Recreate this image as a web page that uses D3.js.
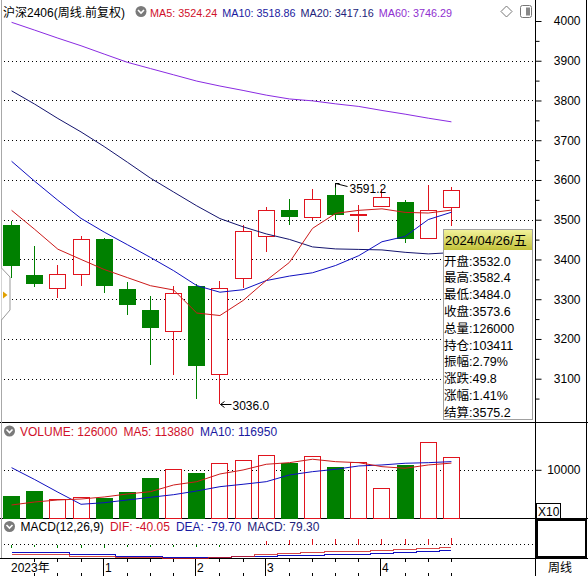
<!DOCTYPE html>
<head>
  <meta charset="utf-8">
  <style>
    body { margin: 0; background: #fff; }
    svg text {
      font-family: "Liberation Sans", Arial, "Noto Sans CJK SC", sans-serif;
      font-size: 12px;
    }
  </style>
</head>
<body>
  <svg width=588 height=576 id="chart"></svg>
  <script src="https://d3js.org/d3.v7.min.js"></script>
  <script>
    // IF2406 weekly bars
    let weeks = ["2023/12/08","2023/12/15","2023/12/22","2023/12/29","2024/01/05","2024/01/12","2024/01/19","2024/01/26",
                 "2024/02/02","2024/02/08","2024/02/23","2024/03/01","2024/03/08","2024/03/15","2024/03/22","2024/03/29",
                 "2024/04/03","2024/04/12","2024/04/19","2024/04/26"];
    let opens  = [3485.8,3362,3329,3364,3452,3326,3274,3220,3332,3112,3354,3458,3525,3507,3561,3512.5,3535,3544,3454,3532.0];
    let highs  = [3496.6,3433,3387,3459,3455,3343,3309,3332,3339,3345,3486,3532,3553,3576.5,3591.2,3536,3576.5,3549,3586.6,3582.4];
    let lows   = [3353.9,3330,3302,3333,3315,3261,3135,3109,3049,3036.0,3329,3418.5,3486,3500,3500,3469,3533,3441,3452,3484.0];
    let closes = [3386.7,3340,3364,3452,3336,3287,3229,3316,3135,3329,3471,3524,3509,3553,3514,3514,3556,3454,3524,3573.6];

    let ma5  = [3523.6,3475.7,3425.8,3400.1,3374.8,3354.4,3334,3323.2,3265.2,3258.9,3296.7,3347.1,3392.5,3478.2,3516,3523.6,3527.4,3518.5,3516.8,3524.24];
    let ma10 = [3647.1,3596.7,3548.8,3503.4,3468.9,3437.3,3405.1,3371.8,3334.3,3317.6,3323.9,3346.9,3358.2,3366.5,3384.9,3409.6,3444.6,3458,3500.4,3518.86];
    let ma20 = [3824.3,3790.8,3754.7,3720.9,3684.1,3644.8,3604.7,3569.7,3534.9,3502.9,3482.2,3464.3,3450.5,3431.6,3426.5,3425.3,3424,3418,3414,3417.16];
    let ma60 = [3996.7,3977,3956.9,3937.7,3916.8,3896.1,3880.3,3864.6,3848.8,3836.4,3825.3,3813.5,3803.9,3799.1,3791.5,3785,3774.9,3765.6,3755.5,3746.29];

    let volumes = [45700,56100,38800,43000,41500,54000,83000,101100,94000,114200,120400,130800,113600,128700,105300,115600,61700,110000,157800,126000];
    let volMa5  = [26990,33220,37370,39440,43600,49820,54600,68510,75360,91340,99650,111480,114800,121860,116880,114800,106500,103180,110030,113880];
    let volMa10 = [104420,79720,53560,28440,31760,37370,42970,48370,56050,64980,69960,75360,89270,96120,101100,107950,110030,113560,114800,116950];

    let dif  = [-128,-128,-128,-155,-155,-172,-172,-177,-177,-168,-155,-132,-119,-102,-89,-89,-71,-58,-50,-40.05];
    let dea  = [-106,-106,-106,-132,-132,-151,-151,-164,-164,-168,-159,-155,-146,-142,-132,-132,-119,-106,-89,-79.70];
    let macd = [-44,-42,-44,-46,-44,-42,-40,-40,-38,-34,0,46,54,66,70,70,72,72,74,79.30];

    let priceTicks = [3100,3200,3300,3400,3500,3600,3700,3800,3900,4000];
    let priceMinor = [3050,3150,3250,3350,3450,3550,3650,3750,3850,3950];
    let volTicks = [100000];
    let monthStarts = ["2023/12/08","2024/01/05","2024/02/02","2024/03/01","2024/04/03"];
    let monthNames  = ["2023年","1","2","3","4"];

    let infoLabels = ["开盘","最高","最低","收盘","总量","持仓","振幅","涨跌","涨幅","结算"];
    let infoValues = ["3532.0","3582.4","3484.0","3573.6","126000","103411","2.79%","49.8","1.41%","3575.2"];

    const RED = "#e0141e", GREEN = "#008000";
    const svg = d3.select("#chart");

    let x = d3.scaleBand().domain(weeks).range([0, 463]).paddingInner(0.27).paddingOuter(0.135),
        y = d3.scaleLinear().domain([3100, 4000]).range([378.7, 21]),
        yVol = d3.scaleLinear().domain([0, 100000]).range([518, 469.8]),
        yMacd = d3.scaleLinear().domain([0, -100]).range([544.3, 551.85]);

    let mid = d => x(d) + x.bandwidth() / 2;
    let cx = d => Math.floor(mid(d)) + 0.5;
    let px = v => Math.round(v) + 0.5;

    // frame
    let frame = svg.append("g").attr("stroke", "#000").attr("shape-rendering", "crispEdges");
    [422.5, 518.5, 558.5].forEach(v => frame.append("line").attr("x1", 0).attr("x2", 588).attr("y1", v).attr("y2", v));
    frame.append("line").attr("x1", 535.5).attr("x2", 535.5).attr("y1", 0).attr("y2", 576);
    frame.append("line").attr("x1", 586.5).attr("x2", 586.5).attr("y1", 0).attr("y2", 558);
    frame.append("line").attr("x1", 1.5).attr("x2", 1.5).attr("y1", 0).attr("y2", 558).attr("stroke", "#a8a8a8");

    // grid lines
    let grid = svg.append("g").attr("stroke", "#000").attr("stroke-dasharray", "1,3").attr("shape-rendering", "crispEdges");
    priceTicks.filter(t => t < 4000).forEach(t =>
      grid.append("line").attr("x1", 4).attr("x2", 535).attr("y1", px(y(t))).attr("y2", px(y(t))));
    grid.append("line").attr("x1", 4).attr("x2", 535).attr("y1", px(yVol(100000))).attr("y2", px(yVol(100000)));
    grid.append("line").attr("x1", 4).attr("x2", 535).attr("y1", px(yMacd(0))).attr("y2", px(yMacd(0)));

    // price axis
    let axisMain = svg.append("g").attr("transform", "translate(535.5,0)")
      .call(d3.axisRight(y).tickValues(priceTicks).tickSize(6).tickFormat(d3.format("d")));
    axisMain.select(".domain").remove();
    axisMain.selectAll("text").attr("x", 45).attr("text-anchor", "end").attr("fill", "#000")
      .style("font-size", "12px").style("font-family", "'Liberation Sans', Arial, sans-serif");
    axisMain.selectAll("line").attr("stroke", "#000");
    let axisMinor = svg.append("g").attr("transform", "translate(535.5,0)")
      .call(d3.axisRight(y).tickValues(priceMinor).tickSize(4).tickFormat(""));
    axisMinor.select(".domain").remove();
    axisMinor.selectAll("line").attr("stroke", "#000");

    let axisVol = svg.append("g").attr("transform", "translate(535.5,0)")
      .call(d3.axisRight(yVol).tickValues(volTicks).tickSize(6).tickFormat(d => d / 10));
    axisVol.select(".domain").remove();
    axisVol.selectAll("text").attr("x", 45).attr("text-anchor", "end").attr("fill", "#000")
      .style("font-size", "12px").style("font-family", "'Liberation Sans', Arial, sans-serif");
    axisVol.selectAll("line").attr("stroke", "#000");

    // candles
    let candles = svg.append("g").attr("shape-rendering", "crispEdges");
    weeks.forEach((w, i) => {
      let up = closes[i] >= opens[i], c = cx(w), col = up ? RED : GREEN;
      let top = px(y(Math.max(opens[i], closes[i]))), bot = px(y(Math.min(opens[i], closes[i])));
      if (bot - top < 1) bot = top + 1;
      if (up) {
        candles.append("line").attr("x1", c).attr("x2", c).attr("y1", y(highs[i])).attr("y2", top).attr("stroke", col);
        candles.append("line").attr("x1", c).attr("x2", c).attr("y1", bot).attr("y2", y(lows[i])).attr("stroke", col);
        candles.append("rect").attr("x", c - 8).attr("y", top).attr("width", 16).attr("height", bot - top)
          .attr("fill", "#fff").attr("stroke", col);
      } else {
        candles.append("line").attr("x1", c).attr("x2", c).attr("y1", y(highs[i])).attr("y2", y(lows[i])).attr("stroke", col);
        candles.append("rect").attr("x", c - 8).attr("y", top).attr("width", 16).attr("height", bot - top)
          .attr("fill", col).attr("stroke", col);
      }
    });

    // moving averages
    let maLine = arr => d3.line().x((d, i) => mid(weeks[i])).y(d => y(d))(arr);
    [[ma60, "#8a2be2"], [ma20, "#14146e"], [ma10, "#1010c0"], [ma5, "#cc1a1a"]].forEach(([arr, col]) =>
      svg.append("path").attr("d", maLine(arr)).attr("fill", "none").attr("stroke", col).attr("stroke-width", 1));

    // high / low marks
    let hi = d3.maxIndex(highs), lo = d3.minIndex(lows);
    let hx = cx(weeks[hi]), hy = px(y(highs[hi]));
    svg.append("path").attr("d", `M${hx},${hy + 4}V${hy}H${hx + 4}M${hx},${hy}L${hx + 12},${hy + 3}`)
      .attr("fill", "none").attr("stroke", "#000");
    svg.append("text").attr("x", hx + 14).attr("y", hy + 9).text(d3.format(".1f")(highs[hi]));
    let lx = cx(weeks[lo]), ly = px(y(lows[lo]));
    svg.append("path").attr("d", `M${lx + 1},${ly}H${lx + 12}M${lx + 1},${ly}l4,-3M${lx + 1},${ly}l4,3`)
      .attr("fill", "none").attr("stroke", "#000");
    svg.append("text").attr("x", lx + 13).attr("y", ly + 5).text(d3.format(".1f")(lows[lo]));

    // volume
    let vol = svg.append("g").attr("shape-rendering", "crispEdges");
    weeks.forEach((w, i) => {
      let up = closes[i] >= opens[i], c = cx(w), top = px(yVol(volumes[i]));
      vol.append("rect").attr("x", c - 8).attr("y", top).attr("width", 16).attr("height", 518 - top)
        .attr("fill", up ? "#fff" : GREEN).attr("stroke", up ? RED : GREEN);
    });
    let volLine = arr => d3.line().x((d, i) => mid(weeks[i])).y(d => yVol(d))(arr);
    svg.append("path").attr("d", volLine(volMa10)).attr("fill", "none").attr("stroke", "#1010c0");
    svg.append("path").attr("d", volLine(volMa5)).attr("fill", "none").attr("stroke", "#cc1a1a");

    // macd
    let mg = svg.append("g").attr("shape-rendering", "crispEdges");
    weeks.forEach((w, i) => {
      if (macd[i] === 0) return;
      mg.append("line").attr("x1", cx(w)).attr("x2", cx(w)).attr("y1", px(yMacd(0))).attr("y2", yMacd(macd[i]))
        .attr("stroke", macd[i] > 0 ? RED : GREEN);
    });
    let stepLine = arr => d3.line().curve(d3.curveStep).x((d, i) => mid(weeks[i])).y(d => px(yMacd(d)))(arr);
    svg.append("path").attr("d", stepLine(dea)).attr("fill", "none").attr("stroke", "#1010c0").attr("shape-rendering", "crispEdges");
    svg.append("path").attr("d", stepLine(dif)).attr("fill", "none").attr("stroke", "#cc1a1a").attr("shape-rendering", "crispEdges").attr("stroke-opacity", 0.8);

    // date strip
    let strip = svg.append("g").attr("stroke", "#000").attr("shape-rendering", "crispEdges");
    weeks.forEach(w => {
      if (monthStarts.includes(w)) return;
      strip.append("line").attr("x1", cx(w)).attr("x2", cx(w)).attr("y1", 559).attr("y2", 562);
      strip.append("line").attr("x1", cx(w)).attr("x2", cx(w)).attr("y1", 573).attr("y2", 576);
    });
    monthStarts.forEach((w, i) => {
      let sx = i === 0 ? 8 : cx(w) - 1;
      if (i > 0) strip.append("line").attr("x1", sx).attr("x2", sx).attr("y1", 559).attr("y2", 576);
      svg.append("text").attr("x", sx + (i === 0 ? 3 : 1.5)).attr("y", 572).text(monthNames[i]);
    });
    svg.append("text").attr("x", 548).attr("y", 572).text("周线");

    // right side boxes
    svg.append("rect").attr("x", 537).attr("y", 520).attr("width", 49).attr("height", 37)
      .attr("fill", "none").attr("stroke", "#000").attr("stroke-width", 2);
    svg.append("rect").attr("x", 536.5).attr("y", 503.5).attr("width", 24).attr("height", 14.5)
      .attr("fill", "#fff").attr("stroke", "#000").attr("shape-rendering", "crispEdges");
    svg.append("text").attr("x", 538).attr("y", 516).text("X10");

    // legends
    function chevron(cx0, cy0) {
      svg.append("circle").attr("cx", cx0).attr("cy", cy0).attr("r", 5.5).attr("fill", "#7a7a7a");
      svg.append("path").attr("d", `M${cx0 - 3},${cy0 - 1.5}L${cx0},${cy0 + 1.5}L${cx0 + 3},${cy0 - 1.5}`)
        .attr("fill", "none").attr("stroke", "#fff").attr("stroke-width", 1.6);
    }
    function legend(items, x0, by, size, gap) {
      let lx0 = x0;
      items.forEach(([tx, col]) => {
        let t = svg.append("text").attr("x", lx0).attr("y", by).attr("fill", col).style("font-size", size + "px").text(tx);
        lx0 += t.node().getComputedTextLength() + gap;
      });
    }
    legend([["沪深2406(周线.前复权)", "#000"]], 3, 17, 12, 0);
    chevron(141, 11.5);
    legend([["MA5: " + ma5[19].toFixed(2), "#d0102a"], ["MA10: " + ma10[19].toFixed(2), "#1a1aa0"],
            ["MA20: " + ma20[19].toFixed(2), "#22227a"], ["MA60: " + ma60[19].toFixed(2), "#9030d0"]], 150, 17, 10.8, 5);
    svg.append("path").attr("d", "M506.5,6 L512,11.5 L506.5,17 L501,11.5Z").attr("fill", "#fff").attr("stroke", "#777");
    svg.append("rect").attr("x", 520.5).attr("y", 5.5).attr("width", 11).attr("height", 12).attr("rx", 2)
      .attr("fill", "#fff").attr("stroke", "#777");
    svg.append("rect").attr("x", 526).attr("y", 7.5).attr("width", 4).attr("height", 8).attr("fill", "#888");

    chevron(9.5, 431);
    legend([["VOLUME: " + volumes[19], "#d0102a"], ["MA5: " + volMa5[19], "#d0102a"],
            ["MA10: " + volMa10[19], "#1a1aa0"]], 20, 435.5, 12, 6);
    chevron(9.5, 526.5);
    legend([["MACD(12,26,9)", "#000"], ["DIF: " + dif[19].toFixed(2), "#d0102a"],
            ["DEA: " + dea[19].toFixed(2), "#1a1aa0"], ["MACD: " + macd[19].toFixed(2), "#22227a"]], 20.5, 531, 12, 6);

    // left collapse tab
    svg.append("path").attr("d", "M1.5,268 L10,277 L10,310 L1.5,320").attr("fill", "#fff").attr("stroke", "#999");
    svg.append("path").attr("d", "M3,291.5 L7.5,295 L3,298.5Z").attr("fill", "#e0a000");

    // info box for last bar
    let defs = svg.append("defs");
    let grad = defs.append("linearGradient").attr("id", "hdr").attr("x1", 0).attr("y1", 0).attr("x2", 0).attr("y2", 1);
    grad.append("stop").attr("offset", "0%").attr("stop-color", "#f2f29a");
    grad.append("stop").attr("offset", "100%").attr("stop-color", "#c2c23a");
    let info = svg.append("g");
    info.append("rect").attr("x", 443.5).attr("y", 229.5).attr("width", 89).attr("height", 190)
      .attr("fill", "#fff").attr("stroke", "#a0a0a0").attr("shape-rendering", "crispEdges");
    info.append("rect").attr("x", 444).attr("y", 230).attr("width", 88).attr("height", 20).attr("fill", "url(#hdr)");
    info.append("text").attr("x", 445).attr("y", 245).style("font-size", "13px").text("2024/04/26/五");
    infoLabels.forEach((l, i) => info.append("text").attr("x", 444).attr("y", 265.5 + i * 16.8)
      .style("font-size", "12.5px").text(l + ":" + infoValues[i]));
  </script>
</body>
